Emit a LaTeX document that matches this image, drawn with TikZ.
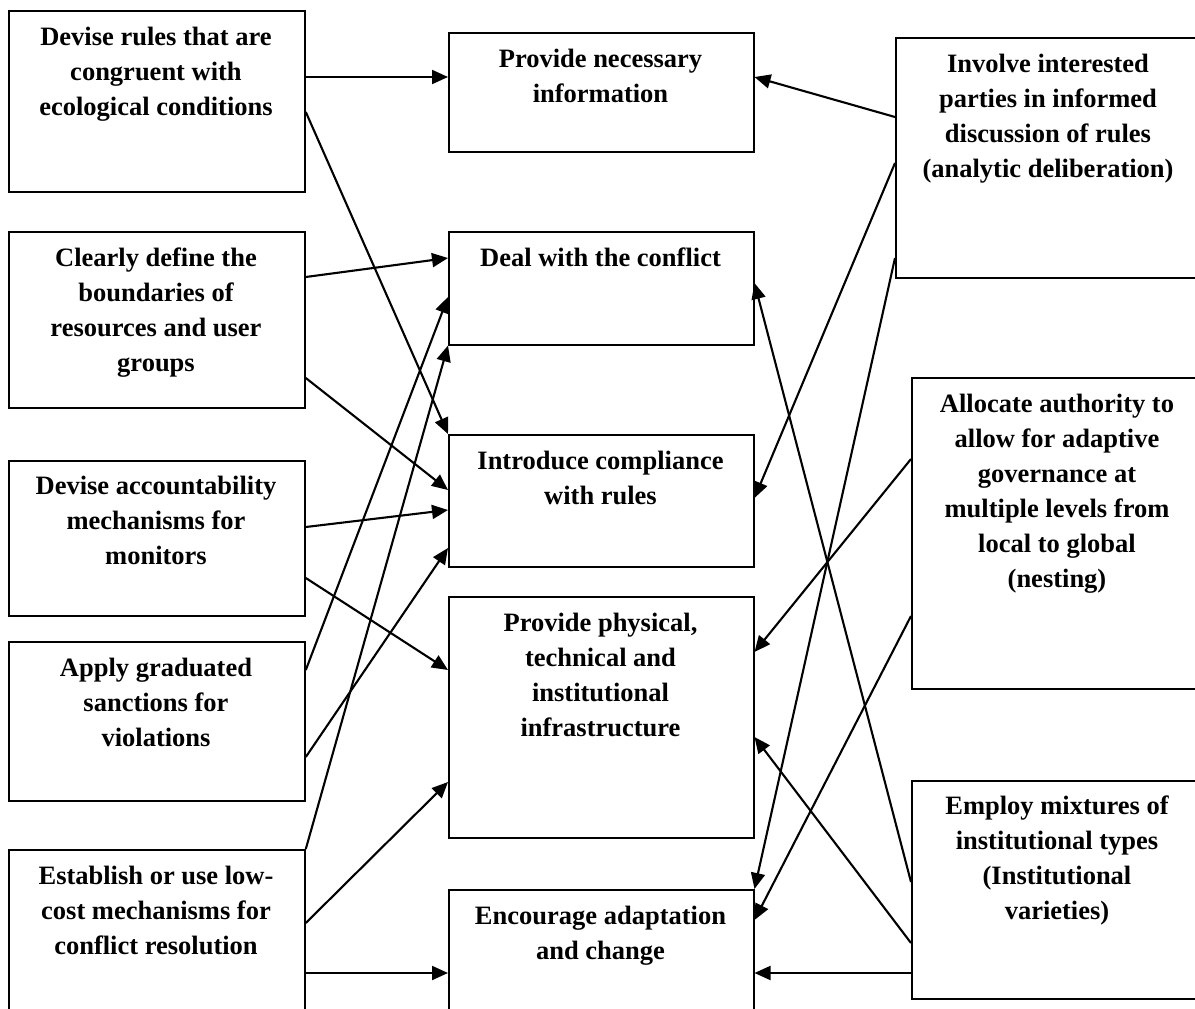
\documentclass[tikz,border=0pt]{standalone}
\usepackage{fontspec}
\setmainfont{Liberation Serif}
\usetikzlibrary{arrows.meta,calc}
\begin{document}
\begin{tikzpicture}[x=1pt,y=-1pt,
  lbox/.style={draw, line width=1.8pt, inner sep=0pt, anchor=north west},
  mbox/.style={draw, line width=1.5pt, inner sep=0pt, anchor=north west},
  txt/.style={anchor=north, align=center, inner sep=0pt,
    font=\fontsize{26.5}{35}\selectfont\bfseries},
  arr/.style={line width=2.1pt, -{Triangle[length=16pt,width=14pt]}}]
\useasboundingbox (0,0) rectangle (1195,1009);
\clip (0,0) rectangle (1195,1009);
% left column
\node[lbox, minimum width=296pt, minimum height=181pt] (L1) at (8,10) {};
\node[lbox, minimum width=296pt, minimum height=176pt] (L2) at (8,231) {};
\node[lbox, minimum width=296pt, minimum height=155pt] (L3) at (8,460) {};
\node[lbox, minimum width=296pt, minimum height=159pt] (L4) at (8,641) {};
\node[lbox, minimum width=296pt, minimum height=200pt] (L5) at (8,849) {};
% middle column
\node[mbox, minimum width=305pt, minimum height=119pt] (M1) at (448,32) {};
\node[mbox, minimum width=305pt, minimum height=113pt] (M2) at (448,231) {};
\node[mbox, minimum width=305pt, minimum height=132pt] (M3) at (448,434) {};
\node[mbox, minimum width=305pt, minimum height=241pt] (M4) at (448,596) {};
\node[mbox, minimum width=305pt, minimum height=200pt] (M5) at (448,889) {};
% right column (cut off at the right edge)
\node[mbox, minimum width=330pt, minimum height=240pt] (R1) at (895,37) {};
\node[mbox, minimum width=320pt, minimum height=311pt] (R2) at (911,377) {};
\node[mbox, minimum width=320pt, minimum height=218pt] (R3) at (911,780) {};
% texts
\node[txt] (L1t) at (156,27) {Devise rules that are\\congruent with\\ecological conditions};
\node[txt] (L2t) at (156,248) {Clearly define the\\boundaries of\\resources and user\\groups};
\node[txt] (L3t) at (156,476) {Devise accountability\\mechanisms for\\monitors};
\node[txt] (L4t) at (156,658) {Apply graduated\\sanctions for\\violations};
\node[txt] (L5t) at (156,866) {Establish or use low-\\cost mechanisms for\\conflict resolution};
\node[txt] (M1t) at (600.5,49) {Provide necessary\\information};
\node[txt] (M2t) at (600.5,248) {Deal with the conflict};
\node[txt] (M3t) at (600.5,451) {Introduce compliance\\with rules};
\node[txt] (M4t) at (600.5,613) {Provide physical,\\technical and\\institutional\\infrastructure};
\node[txt] (M5t) at (600.5,906) {Encourage adaptation\\and change};
\node[txt] (R1t) at (1048,54) {Involve interested\\parties in informed\\discussion of rules\\(analytic deliberation)};
\node[txt] (R2t) at (1057,394) {Allocate authority to\\allow for adaptive\\governance at\\multiple levels from\\local to global\\(nesting)};
\node[txt] (R3t) at (1057,796) {Employ mixtures of\\institutional types\\(Institutional\\varieties)};
% arrows from the left
\draw[arr] ($(L1.north east)+(0,67)$) -- ($(M1.north west)+(0,45)$);
\draw[arr] ($(L1.north east)+(0,102)$) -- (M3.north west);
\draw[arr] ($(L2.north east)+(0,46)$) -- ($(M2.north west)+(0,27)$);
\draw[arr] ($(L2.north east)+(0,147)$) -- ($(M3.north west)+(0,56)$);
\draw[arr] ($(L3.north east)+(0,67)$) -- ($(M3.north west)+(0,76)$);
\draw[arr] ($(L3.north east)+(0,118)$) -- ($(M4.north west)+(0,74)$);
\draw[arr] ($(L4.north east)+(0,29)$) -- ($(M2.north west)+(0,66)$);
\draw[arr] ($(L4.north east)+(0,116)$) -- ($(M3.north west)+(0,114)$);
\draw[arr] (L5.north east) -- (M2.south west);
\draw[arr] ($(L5.north east)+(0,74)$) -- ($(M4.north west)+(0,186)$);
\draw[arr] ($(L5.north east)+(0,124)$) -- ($(M5.north west)+(0,84)$);
% arrows from the right
\draw[arr] ($(R1.north west)+(0,80)$) -- ($(M1.north east)+(0,45)$);
\draw[arr] ($(R1.north west)+(0,126)$) -- ($(M3.north east)+(0,64)$);
\draw[arr] ($(R1.north west)+(0,221)$) -- (M5.north east);
\draw[arr] ($(R2.north west)+(0,82)$) -- ($(M4.north east)+(0,56)$);
\draw[arr] ($(R2.north west)+(0,239)$) -- ($(M5.north east)+(0,31)$);
\draw[arr] ($(R3.north west)+(0,102)$) -- ($(M2.north east)+(0,52)$);
\draw[arr] ($(R3.north west)+(0,163)$) -- ($(M4.north east)+(0,141)$);
\draw[arr] ($(R3.north west)+(0,193)$) -- ($(M5.north east)+(0,84)$);
\end{tikzpicture}
\end{document}
